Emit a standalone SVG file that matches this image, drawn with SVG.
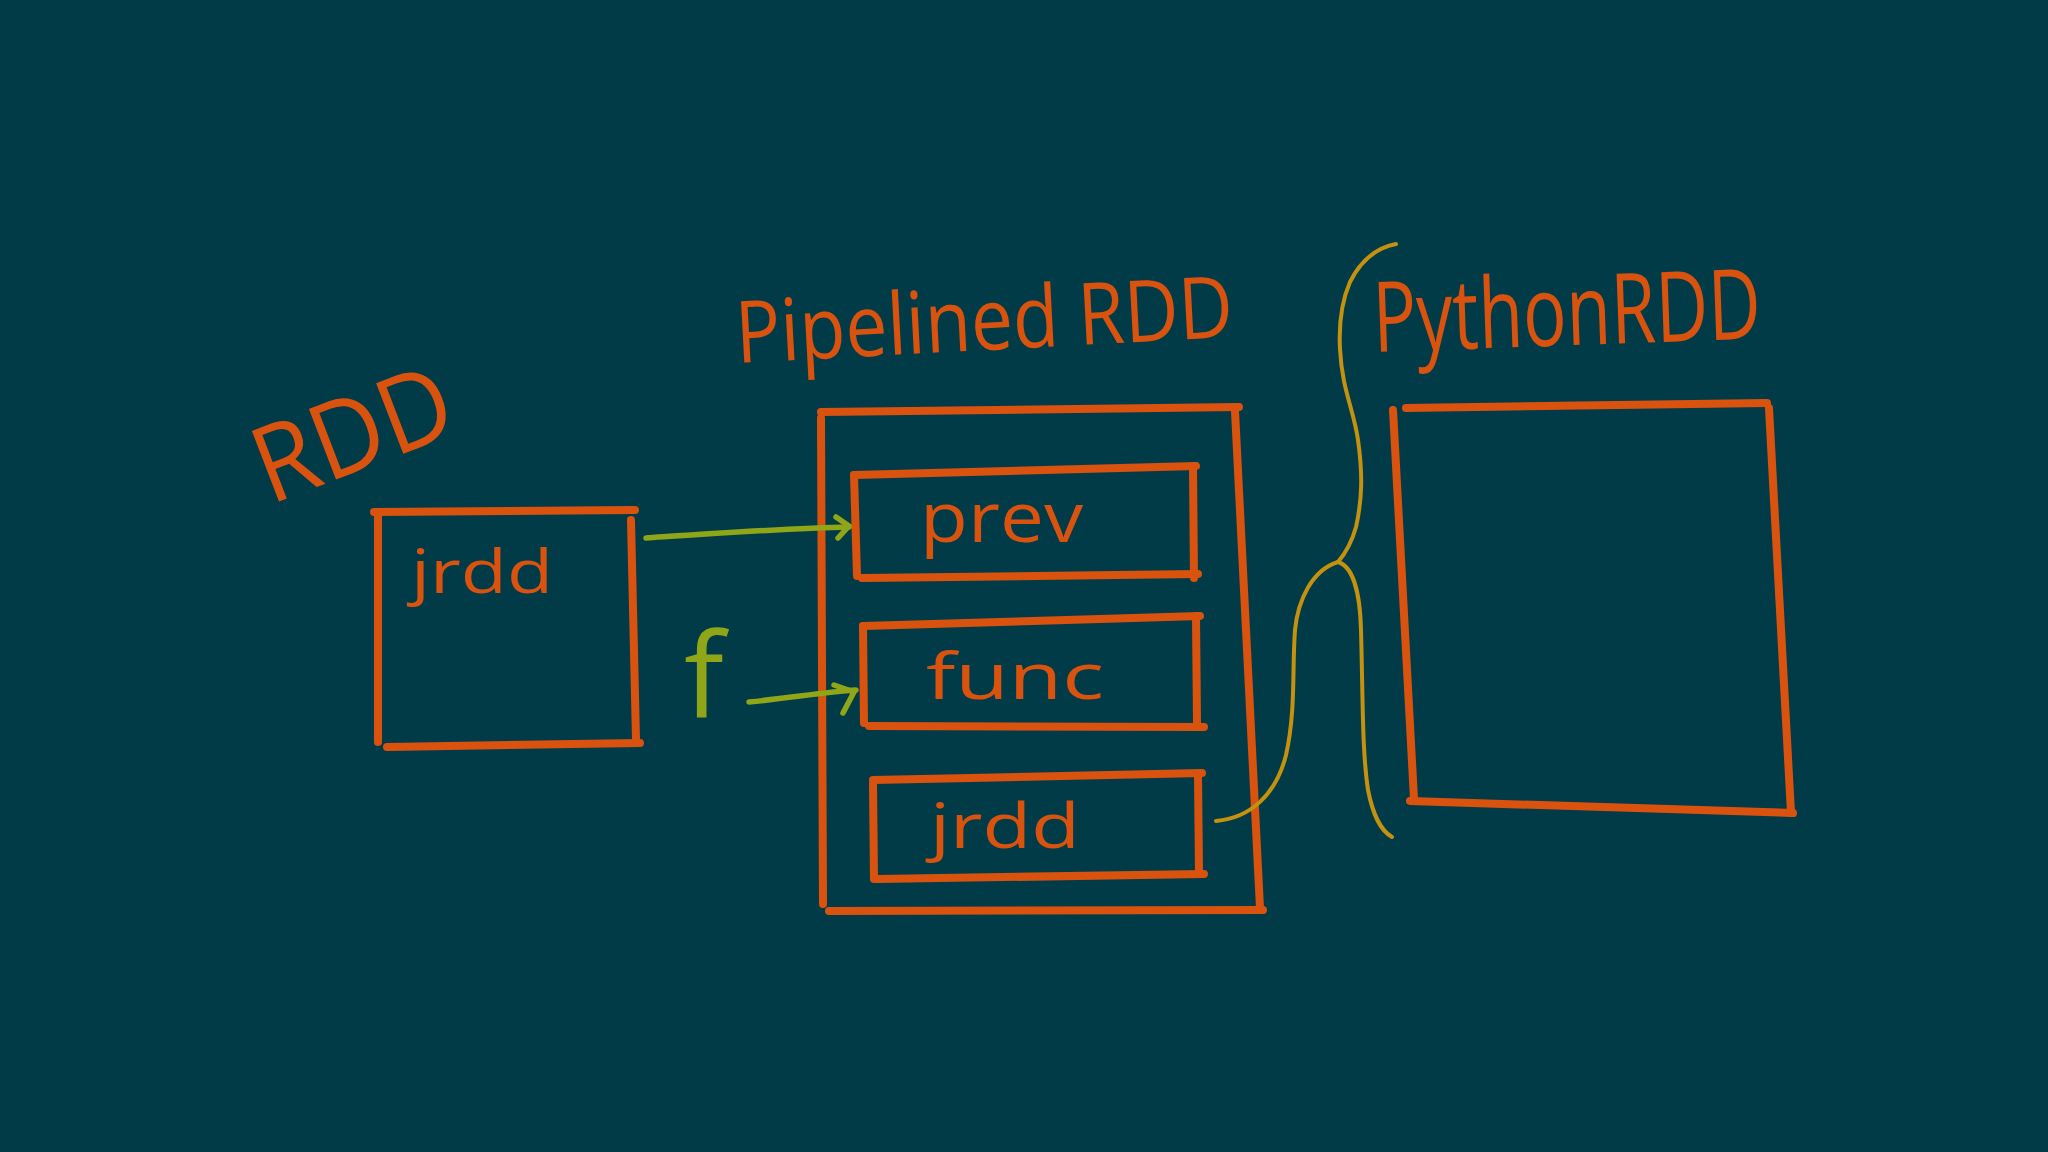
<svg xmlns="http://www.w3.org/2000/svg" width="2048" height="1152" viewBox="0 0 2048 1152">
<style>
.bg{fill:#023b48}
.box{stroke:#d9530f;stroke-width:8;stroke-linecap:round;fill:none}
.lbl{fill:#d9530f;font-family:"Open Sans","Liberation Sans",sans-serif;font-weight:400}
.big{fill:#d9530f;font-family:"Open Sans","Liberation Sans",sans-serif;font-weight:400}
.arr{stroke:#8ea617;stroke-width:5.5;stroke-linecap:round;stroke-linejoin:round;fill:none}
.brace{stroke:#c4920f;stroke-width:4;stroke-linecap:round;fill:none}
.glbl{fill:#8ea617;font-family:"Open Sans","Liberation Sans",sans-serif;font-weight:400}
</style>
<rect class="bg" x="0" y="0" width="2048" height="1152"/>

<g id="node-rdd">
  <text class="big" x="270" y="505" font-size="106" textLength="205" lengthAdjust="spacingAndGlyphs" transform="rotate(-21 270 505)">RDD</text>
  <line class="box" x1="374" y1="512" x2="635" y2="510"/>
  <line class="box" x1="378" y1="514" x2="378" y2="742"/>
  <line class="box" x1="387" y1="747" x2="640" y2="743"/>
  <line class="box" x1="631" y1="520" x2="636" y2="740"/>
  <text class="lbl" x="411" y="593" font-size="60" textLength="142" lengthAdjust="spacingAndGlyphs">jrdd</text>
</g>

<g id="node-pipelined">
  <text class="big" x="737" y="363" font-size="86" textLength="498" lengthAdjust="spacingAndGlyphs" transform="rotate(-3 737 363)">Pipelined RDD</text>
  <line class="box" x1="821" y1="412" x2="1239" y2="407"/>
  <line class="box" x1="821" y1="418" x2="823" y2="904"/>
  <line class="box" x1="1235" y1="411" x2="1260" y2="908"/>
  <line class="box" x1="829" y1="911" x2="1263" y2="910"/>
</g>

<g id="node-prev">
  <line class="box" x1="854" y1="475" x2="1196" y2="466"/>
  <line class="box" x1="854" y1="475" x2="857" y2="576"/>
  <line class="box" x1="862" y1="578" x2="1198" y2="574"/>
  <line class="box" x1="1193" y1="466" x2="1194" y2="578"/>
  <text class="lbl" x="920" y="542" font-size="70" textLength="163" lengthAdjust="spacingAndGlyphs">prev</text>
</g>

<g id="node-func">
  <line class="box" x1="863" y1="626" x2="1200" y2="616"/>
  <line class="box" x1="863" y1="626" x2="864" y2="723"/>
  <line class="box" x1="869" y1="726" x2="1204" y2="727"/>
  <line class="box" x1="1196" y1="616" x2="1197" y2="723"/>
  <text class="lbl" x="926" y="699" font-size="64" textLength="178" lengthAdjust="spacingAndGlyphs">func</text>
</g>

<g id="node-jrdd">
  <line class="box" x1="873" y1="780" x2="1202" y2="773"/>
  <line class="box" x1="873" y1="784" x2="874" y2="879"/>
  <line class="box" x1="877" y1="879" x2="1204" y2="874"/>
  <line class="box" x1="1198" y1="775" x2="1199" y2="872"/>
  <text class="lbl" x="930" y="848" font-size="62" textLength="150" lengthAdjust="spacingAndGlyphs">jrdd</text>
</g>

<g id="node-python">
  <text class="big" x="1374" y="352" font-size="98" textLength="388" lengthAdjust="spacingAndGlyphs" transform="rotate(-2 1374 352)">PythonRDD</text>
  <line class="box" x1="1406" y1="408" x2="1767" y2="403"/>
  <line class="box" x1="1393" y1="410" x2="1414" y2="799"/>
  <line class="box" x1="1410" y1="801" x2="1793" y2="813"/>
  <line class="box" x1="1769" y1="408" x2="1791" y2="813"/>
</g>

<g id="node-f">
  <text class="glbl" x="684" y="717" font-size="118">f</text>
</g>

<g id="connectors">
  <path class="arr" d="M646,538 C720,533 790,528 849,527"/>
  <polyline class="arr" points="836,517 849,526 838,538"/>
  <path class="arr" d="M749,702 C790,698 825,692 856,690"/>
  <polyline class="arr" points="834,685 854,692 843,713"/>
  <path class="brace" d="M1396,244 C1375,248 1360,262 1350,282 C1340,305 1339,330 1340,349 C1342,390 1354,410 1358,440 C1363,475 1362,500 1356,527 C1351,545 1344,555 1338,562"/>
  <path class="brace" d="M1338,562 C1312,570 1298,600 1295,630 C1292,670 1296,710 1286,755 C1276,795 1250,818 1216,821"/>
  <path class="brace" d="M1338,562 C1352,566 1360,590 1361,630 C1363,700 1362,750 1368,790 C1373,815 1380,830 1392,837"/>
</g>
</svg>
